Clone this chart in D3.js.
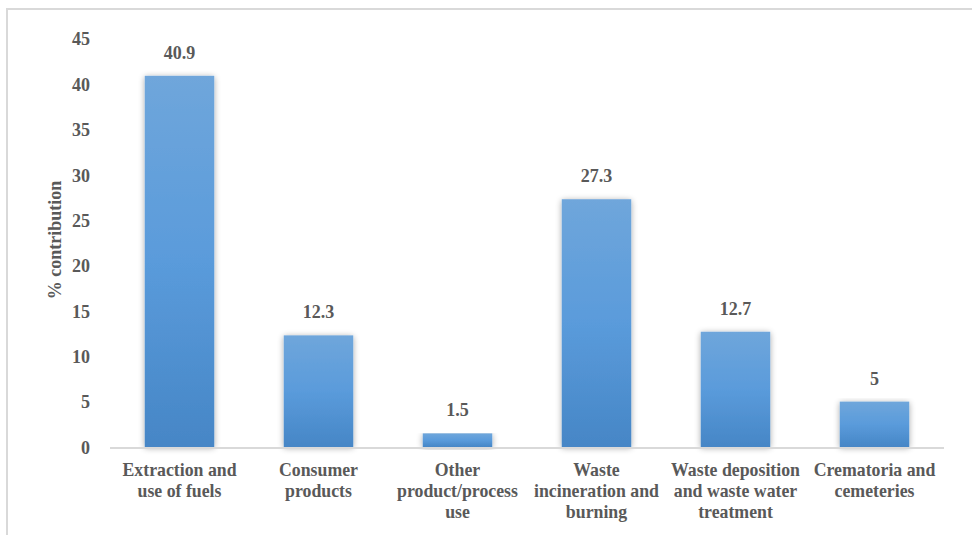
<!DOCTYPE html>
<html>
<head>
<meta charset="utf-8">
<script src="https://cdn.jsdelivr.net/npm/d3@7"></script>
<style>
  html, body { margin: 0; padding: 0; background: #fff; }
  svg { display: block; }
</style>
</head>
<body>
<svg id="chart" width="972" height="535"></svg>
<script>
// Source categories (each label split into display lines)
const categories = [
  ["Extraction and", "use of fuels"],
  ["Consumer", "products"],
  ["Other", "product/process", "use"],
  ["Waste", "incineration and", "burning"],
  ["Waste deposition", "and waste water", "treatment"],
  ["Crematoria and", "cemeteries"]
];
const values = [40.9, 12.3, 1.5, 27.3, 12.7, 5];
const valueLabels = ["40.9", "12.3", "1.5", "27.3", "12.7", "5"];
const yTicks = [0, 5, 10, 15, 20, 25, 30, 35, 40, 45];

const FONT = "'Liberation Serif', 'Times New Roman', serif";
const INK = "#595959";

const svg = d3.select("#chart");
const W = 972, H = 535;
const plotLeft = 110, plotRight = 944, plotTop = 38.6, plotBottom = 447;

// Chart frame (top and left edges visible)
svg.append("rect")
  .attr("x", 7).attr("y", 9)
  .attr("width", W + 20).attr("height", H + 20)
  .attr("fill", "none").attr("stroke", "#d9d9d9").attr("stroke-width", 2);

const defs = svg.append("defs");
const grad = defs.append("linearGradient")
  .attr("id", "barGrad").attr("x1", 0).attr("y1", 0).attr("x2", 0).attr("y2", 1);
grad.append("stop").attr("offset", "0%").attr("stop-color", "#6fa6db");
grad.append("stop").attr("offset", "50%").attr("stop-color", "#5a9bdb");
grad.append("stop").attr("offset", "100%").attr("stop-color", "#4686c6");

const shadow = defs.append("filter").attr("id", "barShadow")
  .attr("x", "-30%").attr("y", "-10%").attr("width", "160%").attr("height", "130%");
shadow.append("feGaussianBlur").attr("in", "SourceAlpha").attr("stdDeviation", 3).attr("result", "blur");
shadow.append("feOffset").attr("in", "blur").attr("dx", 0).attr("dy", 1).attr("result", "off");
shadow.append("feComponentTransfer").attr("in", "off").attr("result", "soft")
  .append("feFuncA").attr("type", "linear").attr("slope", 0.35);
const merge = shadow.append("feMerge");
merge.append("feMergeNode").attr("in", "soft");
merge.append("feMergeNode").attr("in", "SourceGraphic");

const x = d3.scaleBand()
  .domain(d3.range(categories.length))
  .range([plotLeft, plotRight])
  .paddingInner(0.5)
  .paddingOuter(0.25);

const y = d3.scaleLinear().domain([0, 45]).range([plotBottom, plotTop]);

// Y axis tick labels
const yAxis = svg.append("g")
  .attr("transform", `translate(${plotLeft - 20},0)`)
  .call(d3.axisLeft(y).tickValues(yTicks).tickSize(0).tickPadding(0));
yAxis.select(".domain").remove();
yAxis.attr("font-family", FONT).attr("font-size", 18).attr("font-weight", "bold");
yAxis.selectAll("text")
  .attr("dy", "0.35em")
  .attr("fill", INK);

// Y axis title
svg.append("text")
  .attr("transform", `translate(61,240) rotate(-90)`)
  .attr("text-anchor", "middle")
  .attr("font-family", FONT)
  .attr("font-weight", "bold")
  .attr("font-size", 18)
  .attr("fill", INK)
  .text("% contribution");

// Bars
svg.append("g").selectAll("rect")
  .data(values)
  .join("rect")
  .attr("x", (d, i) => x(i))
  .attr("y", d => y(d))
  .attr("width", x.bandwidth())
  .attr("height", d => y(0) - y(d))
  .attr("fill", "url(#barGrad)")
  .attr("filter", "url(#barShadow)");

// Baseline
svg.append("line")
  .attr("x1", plotLeft).attr("x2", plotRight)
  .attr("y1", plotBottom + 1).attr("y2", plotBottom + 1)
  .attr("stroke", "#d9d9d9").attr("stroke-width", 2);

// Value labels
svg.append("g")
  .attr("font-family", FONT).attr("font-weight", "bold").attr("font-size", 18)
  .selectAll("text")
  .data(values)
  .join("text")
  .attr("x", (d, i) => x(i) + x.bandwidth() / 2)
  .attr("y", d => y(d) - 17)
  .attr("text-anchor", "middle")
  .attr("fill", INK)
  .text((d, i) => valueLabels[i]);

// Category labels
const xAxis = svg.append("g")
  .attr("transform", `translate(0,${plotBottom})`)
  .call(d3.axisBottom(x).tickSize(0).tickFormat(""));
xAxis.select(".domain").remove();
xAxis.attr("font-family", FONT).attr("font-size", 17.8).attr("font-weight", "bold");
xAxis.selectAll(".tick").each(function(d) {
  const t = d3.select(this).append("text")
    .attr("text-anchor", "middle")
    .attr("y", 29)
    .attr("fill", INK);
  categories[d].forEach((line, k) => {
    t.append("tspan").attr("x", 0).attr("dy", k === 0 ? 0 : 21).text(line);
  });
});
</script>
</body>
</html>
